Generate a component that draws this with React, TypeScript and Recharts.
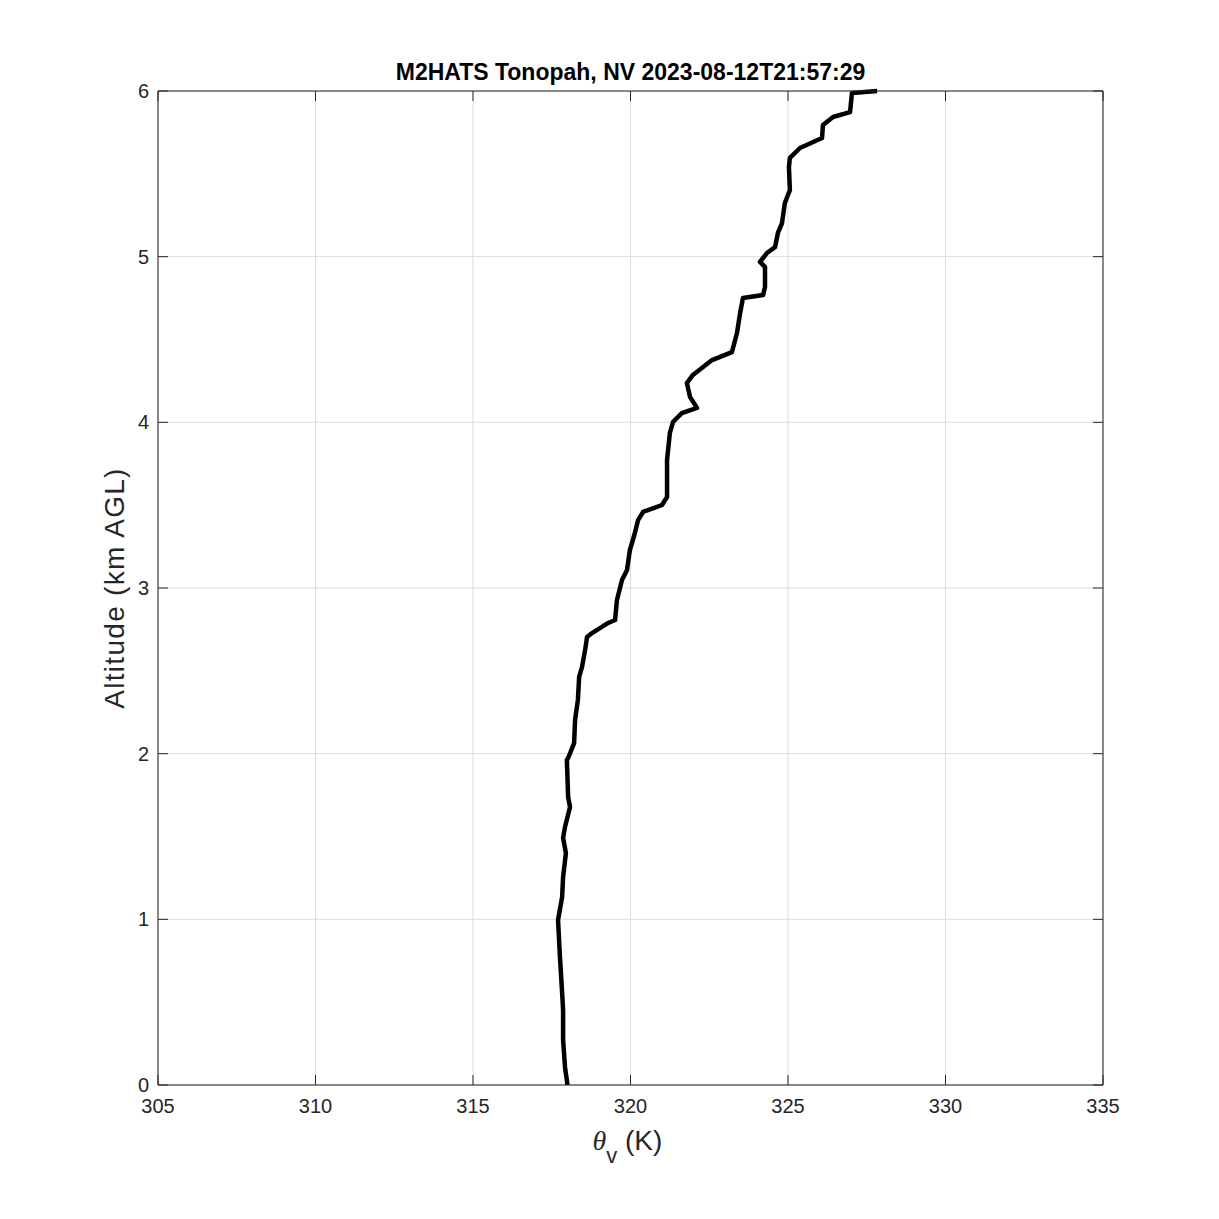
import React from "react";
import { LineChart, Line, XAxis, YAxis, CartesianGrid } from "recharts";

// virtual potential temperature profile
const thetaV = [
  318.0, 317.92, 317.86, 317.86, 317.83, 317.76, 317.7, 317.83, 317.86, 317.95,
  317.86, 317.92, 318.08, 318.02, 317.98, 318.02, 318.21, 318.24, 318.33, 318.37,
  318.46, 318.56, 318.62, 318.78, 319.29, 319.51, 319.57, 319.73, 319.89, 319.98,
  320.14, 320.24, 320.4, 321.0, 321.16, 321.16, 321.16, 321.25, 321.35, 321.41,
  321.63, 322.11, 321.89, 321.79, 321.98, 322.59, 323.22, 323.38, 323.48, 323.57,
  324.21, 324.27, 324.27, 324.11, 324.33, 324.59, 324.68, 324.81, 324.9, 325.06,
  325.03, 325.06, 325.38, 326.08, 326.11, 326.43, 326.97, 327.03, 327.83,
];
const altitudeKm = [
  0.0, 0.109, 0.272, 0.453, 0.555, 0.773, 0.996, 1.135, 1.256, 1.4,
  1.491, 1.557, 1.678, 1.738, 1.962, 1.974, 2.064, 2.203, 2.324, 2.463,
  2.523, 2.626, 2.704, 2.728, 2.789, 2.807, 2.928, 3.048, 3.109, 3.229,
  3.332, 3.41, 3.459, 3.501, 3.549, 3.664, 3.773, 3.936, 4.002, 4.014,
  4.056, 4.087, 4.153, 4.237, 4.286, 4.376, 4.424, 4.539, 4.66, 4.75,
  4.769, 4.817, 4.938, 4.968, 5.022, 5.058, 5.143, 5.203, 5.324, 5.402,
  5.541, 5.596, 5.656, 5.716, 5.795, 5.843, 5.873, 5.988, 6.0,
];
const xTicks = [305, 310, 315, 320, 325, 330, 335];
const yTicks = [0, 1, 2, 3, 4, 5, 6];

const data = thetaV.map((t, i) => ({ theta: t, alt: altitudeKm[i] }));

const FONT = "'Liberation Sans', Arial, Helvetica, sans-serif";
const AXIS = "#262626";
const TICK_LEN = 10;

const BottomTick = (props: any) => {
  const { x, y, payload } = props;
  const axisY = y - 14;
  return (
    <g>
      <line x1={x} x2={x} y1={axisY} y2={axisY - TICK_LEN} stroke={AXIS} strokeWidth={1} />
      <text x={x} y={axisY + 28} textAnchor="middle" fontSize={20} fontFamily={FONT} fill={AXIS}>
        {payload.value}
      </text>
    </g>
  );
};

const LeftTick = (props: any) => {
  const { x, y, payload } = props;
  const axisX = x + 9;
  return (
    <g>
      <line x1={axisX} x2={axisX + TICK_LEN} y1={y} y2={y} stroke={AXIS} strokeWidth={1} />
      <text x={x} y={y + 7} textAnchor="end" fontSize={20} fontFamily={FONT} fill={AXIS}>
        {payload.value}
      </text>
    </g>
  );
};

const TopTick = (props: any) => {
  const { x, y } = props;
  return <line x1={x} x2={x} y1={y} y2={y + TICK_LEN} stroke={AXIS} strokeWidth={1} />;
};

const RightTick = (props: any) => {
  const { x, y } = props;
  return <line x1={x - TICK_LEN} x2={x} y1={y} y2={y} stroke={AXIS} strokeWidth={1} />;
};

export default function App() {
  return (
    <div style={{ position: "absolute", left: 0, top: 0, width: 1219, height: 1219, background: "#fff" }}>
      <div
        style={{
          position: "absolute",
          left: 158,
          width: 945,
          top: 58,
          textAlign: "center",
          fontFamily: FONT,
          fontWeight: "bold",
          fontSize: 23,
          lineHeight: "28px",
          color: "#000",
        }}
      >
        M2HATS Tonopah, NV 2023-08-12T21:57:29
      </div>
      <LineChart
        width={1219}
        height={1219}
        data={data}
        margin={{ top: 90, right: 115, bottom: 74, left: 98 }}
      >
        <CartesianGrid stroke="#dcdcdc" strokeWidth={1} />
        <XAxis
          dataKey="theta"
          type="number"
          domain={[305, 335]}
          ticks={xTicks}
          height={60}
          tickSize={0}
          tickMargin={14}
          axisLine={{ stroke: AXIS }}
          tick={<BottomTick />}
          interval={0}
          label={{
            content: (p: any) => {
              const vb = p.viewBox;
              const cx = vb.x + vb.width / 2;
              return (
                <text x={cx - 38} y={vb.y + 65} fontSize={28} fontFamily={FONT} fill={AXIS}>
                  <tspan fontFamily="'Liberation Serif', serif" fontStyle="italic">θ</tspan>
                  <tspan fontSize={22} dy={13}>v</tspan>
                  <tspan dy={-13}> (K)</tspan>
                </text>
              );
            },
          }}
        />
        <XAxis
          xAxisId="top"
          dataKey="theta"
          orientation="top"
          type="number"
          domain={[305, 335]}
          ticks={xTicks}
          height={1}
          tickSize={0}
          tickMargin={0}
          axisLine={{ stroke: AXIS }}
          tick={<TopTick />}
          interval={0}
        />
        <YAxis
          type="number"
          domain={[0, 6]}
          ticks={yTicks}
          width={60}
          tickSize={0}
          tickMargin={9}
          axisLine={{ stroke: AXIS }}
          tick={<LeftTick />}
          interval={0}
          label={{
            content: (p: any) => {
              const vb = p.viewBox;
              const cy = vb.y + vb.height / 2;
              const bx = 124;
              return (
                <text
                  x={bx}
                  y={cy}
                  transform={`rotate(-90 ${bx} ${cy})`}
                  textAnchor="middle"
                  fontSize={28}
                  letterSpacing={1.3}
                  fontFamily={FONT}
                  fill={AXIS}
                >
                  Altitude (km AGL)
                </text>
              );
            },
          }}
        />
        <YAxis
          yAxisId="right"
          orientation="right"
          type="number"
          domain={[0, 6]}
          ticks={yTicks}
          width={1}
          tickSize={0}
          tickMargin={0}
          axisLine={{ stroke: AXIS }}
          tick={<RightTick />}
          interval={0}
        />
        <Line
          xAxisId="top"
          yAxisId="right"
          type="linear"
          dataKey="alt"
          stroke="none"
          strokeWidth={0}
          dot={false}
          legendType="none"
          isAnimationActive={false}
        />
        <Line
          type="linear"
          dataKey="alt"
          stroke="#000"
          strokeWidth={4.5}
          strokeLinejoin="round"
          dot={false}
          isAnimationActive={false}
        />
      </LineChart>
    </div>
  );
}
